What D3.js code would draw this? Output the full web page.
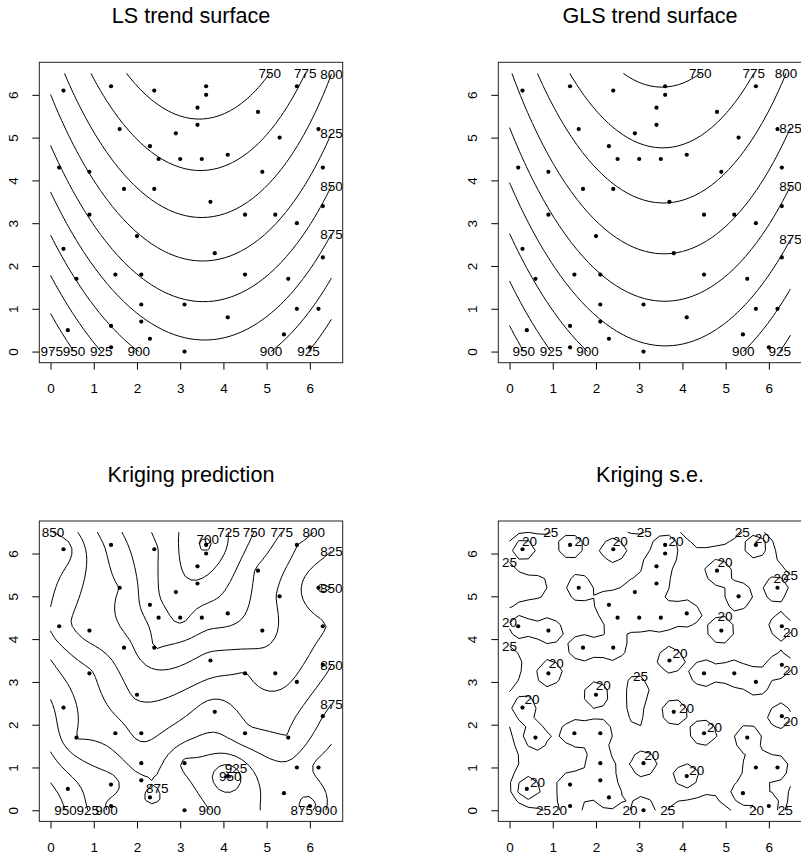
<!DOCTYPE html>
<html><head><meta charset="utf-8">
<script src="https://cdnjs.cloudflare.com/ajax/libs/d3/7.8.5/d3.min.js"></script>
<style>
body{margin:0;background:#fff;}
svg{display:block;font-family:"Liberation Sans",Arial,Helvetica,sans-serif;}
</style></head><body>
<svg id="chart" width="801" height="859"></svg>
<script>
// ---------------- data (MASS topo) ----------------
const topoX = [0.3,1.4,2.4,3.6,5.7,1.6,2.9,3.4,3.4,4.8,5.3,6.2,0.2,0.9,2.3,2.5,3.0,3.5,4.1,4.9,6.3,0.9,1.7,2.4,3.7,4.5,5.2,6.3,0.3,2.0,3.8,6.3,0.6,1.5,2.1,2.1,3.1,4.5,5.5,5.7,6.2,0.4,1.4,1.4,2.1,2.3,3.1,4.1,5.4,6.0,5.7,3.6];
const topoY = [6.1,6.2,6.1,6.2,6.2,5.2,5.1,5.3,5.7,5.6,5.0,5.2,4.3,4.2,4.8,4.5,4.5,4.5,4.6,4.2,4.3,3.2,3.8,3.8,3.5,3.2,3.2,3.4,2.4,2.7,2.3,2.2,1.7,1.8,1.8,1.1,1.1,1.8,1.7,1.0,1.0,0.5,0.6,0.1,0.7,0.3,0.0,0.8,0.4,0.1,3.0,6.0];
const topoZ = [870,793,755,690,800,800,730,728,710,780,804,855,830,813,762,765,740,765,760,790,820,855,812,773,812,827,805,840,890,820,873,875,873,865,841,862,908,855,850,882,910,940,915,890,880,870,880,960,890,860,830,705];

const trendLevels = [700,725,750,775,800,825,850,875,900,925,950,975];
const seLevels = [20,25];
const axisTicks = [0,1,2,3,4,5,6];
const panelTitles = ["LS trend surface","GLS trend surface","Kriging prediction","Kriging s.e."];
const gridLimits = [0, 6.5];
const surfaceGridIntervals = 50;
const seGridIntervals = 30;
const polyDegree = 2;
const expCovRange = 0.7;

// ---------------- model fitting ----------------
const nObs = topoX.length;
const xr = d3.extent(topoX), yr = d3.extent(topoY);
const xc = (xr[0]+xr[1])/2, xh = (xr[1]-xr[0])/2, yc = (yr[0]+yr[1])/2, yh = (yr[1]-yr[0])/2;
function basis(x, y) {
  const xs = (x - xc)/xh, ys = (y - yc)/yh, f = [];
  for (let i = 0; i <= polyDegree; i++)
    for (let j = 0; j <= polyDegree - i; j++) f.push(Math.pow(xs, j) * Math.pow(ys, i));
  return f;
}
const dot = (a, b) => { let s = 0; for (let i = 0; i < a.length; i++) s += a[i]*b[i]; return s; };
function cholesky(A) {
  const n = A.length, L = Array.from({length:n}, () => new Float64Array(n));
  for (let i = 0; i < n; i++) for (let j = 0; j <= i; j++) {
    let s = A[i][j];
    for (let k = 0; k < j; k++) s -= L[i][k]*L[j][k];
    if (i === j) L[i][i] = Math.sqrt(s); else L[i][j] = s / L[j][j];
  }
  return L;
}
function fsolve(L, b) {
  const n = b.length, x = new Float64Array(n);
  for (let i = 0; i < n; i++) { let s = b[i]; for (let k = 0; k < i; k++) s -= L[i][k]*x[k]; x[i] = s / L[i][i]; }
  return x;
}
function bsolveT(L, b) {
  const n = b.length, x = new Float64Array(n);
  for (let i = n-1; i >= 0; i--) { let s = b[i]; for (let k = i+1; k < n; k++) s -= L[k][i]*x[k]; x[i] = s / L[i][i]; }
  return x;
}
function lsFit(Fm, z) {
  const p = Fm[0].length;
  const M = Array.from({length:p}, (_, a) => Array.from({length:p}, (_, b) => d3.sum(Fm, r => r[a]*r[b])));
  const r = Array.from({length:p}, (_, a) => d3.sum(Fm, (row, k) => row[a]*z[k]));
  const L = cholesky(M);
  return {beta: bsolveT(L, fsolve(L, r)), L};
}
const Fobs = topoX.map((x, k) => basis(x, topoY[k]));
const nPar = Fobs[0].length;
const lsModel = lsFit(Fobs, topoZ);

const covFn = r => Math.exp(-r / expCovRange);
const Kmat = topoX.map((xi, i) => topoX.map((xj, j) => covFn(Math.hypot(xi - xj, topoY[i] - topoY[j]))));
const LK = cholesky(Kmat);
const FwCols = d3.range(nPar).map(c => fsolve(LK, Fobs.map(r => r[c])));
const Fw = topoX.map((_, k) => FwCols.map(col => col[k]));
const zw = fsolve(LK, topoZ);
const glsModel = lsFit(Fw, zw);
const Wres = Array.from(zw, (v, k) => v - dot(Fw[k], glsModel.beta));
const sigmaHat = Math.sqrt(d3.sum(Wres, w => w*w) / (nObs - nPar));

const trendAt = (beta, x, y) => dot(basis(x, y), beta);
function krigAt(x, y) {
  const k0 = topoX.map((xi, i) => covFn(Math.hypot(xi - x, topoY[i] - y)));
  const kw = fsolve(LK, k0);
  const pred = trendAt(glsModel.beta, x, y) + dot(kw, Wres);
  const f0 = basis(x, y);
  const g = f0.map((fv, c) => fv - dot(FwCols[c], kw));
  const gw = fsolve(glsModel.L, g);
  const v = 1 - dot(kw, kw) + dot(gw, gw);
  return {pred, se: sigmaHat * Math.sqrt(Math.max(v, 0))};
}
function makeGrid(intervals, fn) {
  const n = intervals + 1;
  const g = d3.range(n).map(i => gridLimits[0] + i*(gridLimits[1]-gridLimits[0])/intervals);
  g[n-1] = gridLimits[1];
  const v = g.map(x => g.map(y => fn(x, y)));
  return {n, g, v};
}

// ---------------- contouring (marching squares, joined polylines) ----------------
function contourLines(grid, level) {
  const {n, g, v} = grid, cross = {}, segs = [];
  function ep(type, i, j) {
    const key = type + i + "_" + j;
    if (!(key in cross)) {
      let a, b, pa, pb;
      if (type === "h") { a = v[i][j]; b = v[i+1][j]; pa = [g[i], g[j]]; pb = [g[i+1], g[j]]; }
      else { a = v[i][j]; b = v[i][j+1]; pa = [g[i], g[j]]; pb = [g[i], g[j+1]]; }
      const t = (level - a) / (b - a);
      cross[key] = [pa[0] + t*(pb[0]-pa[0]), pa[1] + t*(pb[1]-pa[1])];
    }
    return key;
  }
  for (let i = 0; i < n-1; i++) for (let j = 0; j < n-1; j++) {
    const a = v[i][j], b = v[i+1][j], c = v[i+1][j+1], d = v[i][j+1];
    const A = a >= level, B = b >= level, C = c >= level, D = d >= level;
    const e = [];
    if (A !== B) e.push(ep("h", i, j));
    if (B !== C) e.push(ep("v", i+1, j));
    if (C !== D) e.push(ep("h", i, j+1));
    if (D !== A) e.push(ep("v", i, j));
    if (e.length === 2) segs.push(e);
    else if (e.length === 4) {
      const ctr = (a+b+c+d)/4 >= level;
      if (ctr === A) { segs.push([e[0], e[1]]); segs.push([e[2], e[3]]); }
      else { segs.push([e[3], e[0]]); segs.push([e[1], e[2]]); }
    }
  }
  const adj = new Map();
  segs.forEach((s, idx) => s.forEach(k => { if (!adj.has(k)) adj.set(k, []); adj.get(k).push(idx); }));
  const used = new Array(segs.length).fill(false), chains = [];
  function walk(key, seg) {
    const keys = [key];
    while (seg !== undefined && !used[seg]) {
      used[seg] = true;
      const s = segs[seg], nx = s[0] === key ? s[1] : s[0];
      keys.push(nx); key = nx;
      seg = adj.get(key).find(q => !used[q]);
    }
    return keys;
  }
  for (const [k, list] of adj) if (list.length === 1 && !used[list[0]]) chains.push({closed:false, pts: walk(k, list[0]).map(q => cross[q])});
  for (let s = 0; s < segs.length; s++) if (!used[s]) chains.push({closed:true, pts: walk(segs[s][0], s).map(q => cross[q])});
  return chains;
}
function perimPos(p) {
  const [lo, hi] = gridLimits, w = hi - lo, eps = 1e-7;
  if (Math.abs(p[1]-lo) < eps) return p[0]-lo;
  if (Math.abs(p[0]-hi) < eps) return w + (p[1]-lo);
  if (Math.abs(p[1]-hi) < eps) return 2*w + (hi-p[0]);
  return 3*w + (hi-p[1]);
}
function labelPoint(ch) {
  if (ch.closed) return ch.pts.reduce((b, p) => (p[0]+p[1] > b[0]+b[1] ? p : b));
  const a = ch.pts[0], b = ch.pts[ch.pts.length-1];
  return perimPos(a) <= perimPos(b) ? a : b;
}

// ---------------- surfaces ----------------
const panels = [
  {title: panelTitles[0], col:0, row:0, levels: trendLevels, grid: makeGrid(surfaceGridIntervals, (x, y) => trendAt(lsModel.beta, x, y))},
  {title: panelTitles[1], col:1, row:0, levels: trendLevels, grid: makeGrid(surfaceGridIntervals, (x, y) => trendAt(glsModel.beta, x, y))},
  {title: panelTitles[2], col:0, row:1, levels: trendLevels, grid: makeGrid(surfaceGridIntervals, (x, y) => krigAt(x, y).pred)},
  {title: panelTitles[3], col:1, row:1, levels: seLevels, grid: makeGrid(seGridIntervals, (x, y) => krigAt(x, y).se)}
];

// ---------------- drawing ----------------
const svg = d3.select("#chart");
const box = {left: 39.3, top: 62.3, w: 303.4, h: 300.4, dx: 459, dy: 458.7};
const ext = (gridLimits[1]-gridLimits[0])*0.04;
const dom = [gridLimits[0]-ext, gridLimits[1]+ext];

panels.forEach(P => {
  const L = box.left + P.col*box.dx, T = box.top + P.row*box.dy;
  const x = d3.scaleLinear().domain(dom).range([L, L + box.w]);
  const y = d3.scaleLinear().domain(dom).range([T + box.h, T]);
  const g = svg.append("g");

  g.append("text").attr("x", L + box.w/2).attr("y", T - 39).attr("text-anchor", "middle")
    .attr("font-size", "21.6px").attr("fill", "#000").text(P.title);

  const xa = g.append("g").attr("transform", `translate(0,${T + box.h})`)
    .call(d3.axisBottom(x).tickValues(axisTicks).tickSize(7).tickSizeOuter(0).tickPadding(13.6).tickFormat(d3.format("d")));
  xa.select(".domain").remove();
  xa.selectAll("text").attr("font-size", "13.5px").attr("font-family", null).attr("fill", "#000");
  xa.selectAll("line").attr("stroke", "#000");

  const ya = g.append("g").attr("transform", `translate(${L},0)`)
    .call(d3.axisLeft(y).tickValues(axisTicks).tickSize(7).tickSizeOuter(0).tickFormat(d3.format("d")));
  ya.select(".domain").remove();
  ya.selectAll("line").attr("stroke", "#000");
  ya.selectAll("text").attr("x", 0).attr("dy", 0).attr("text-anchor", "middle")
    .attr("transform", "translate(-21,0) rotate(-90)").attr("font-size", "13.5px").attr("font-family", null).attr("fill", "#000");

  const line = d3.line().x(d => x(d[0])).y(d => y(d[1]));
  const cg = g.append("g");
  const lg = g.append("g");
  P.levels.forEach(level => {
    contourLines(P.grid, level).forEach(ch => {
      cg.append("path").attr("d", line(ch.pts)).attr("fill", "none").attr("stroke", "#000").attr("stroke-width", 1);
      const lp = labelPoint(ch);
      lg.append("text").attr("x", x(lp[0])).attr("y", y(lp[1])).attr("dy", "0.36em")
        .attr("text-anchor", "middle").attr("font-size", "13.5px").attr("fill", "#000").text(level);
    });
  });

  g.append("g").selectAll("circle").data(d3.range(nObs)).join("circle")
    .attr("cx", i => x(topoX[i])).attr("cy", i => y(topoY[i])).attr("r", 2.1).attr("fill", "#000");

  g.append("rect").attr("x", L).attr("y", T).attr("width", box.w).attr("height", box.h)
    .attr("fill", "none").attr("stroke", "#222").attr("stroke-width", 1);
});
</script>
</body></html>
